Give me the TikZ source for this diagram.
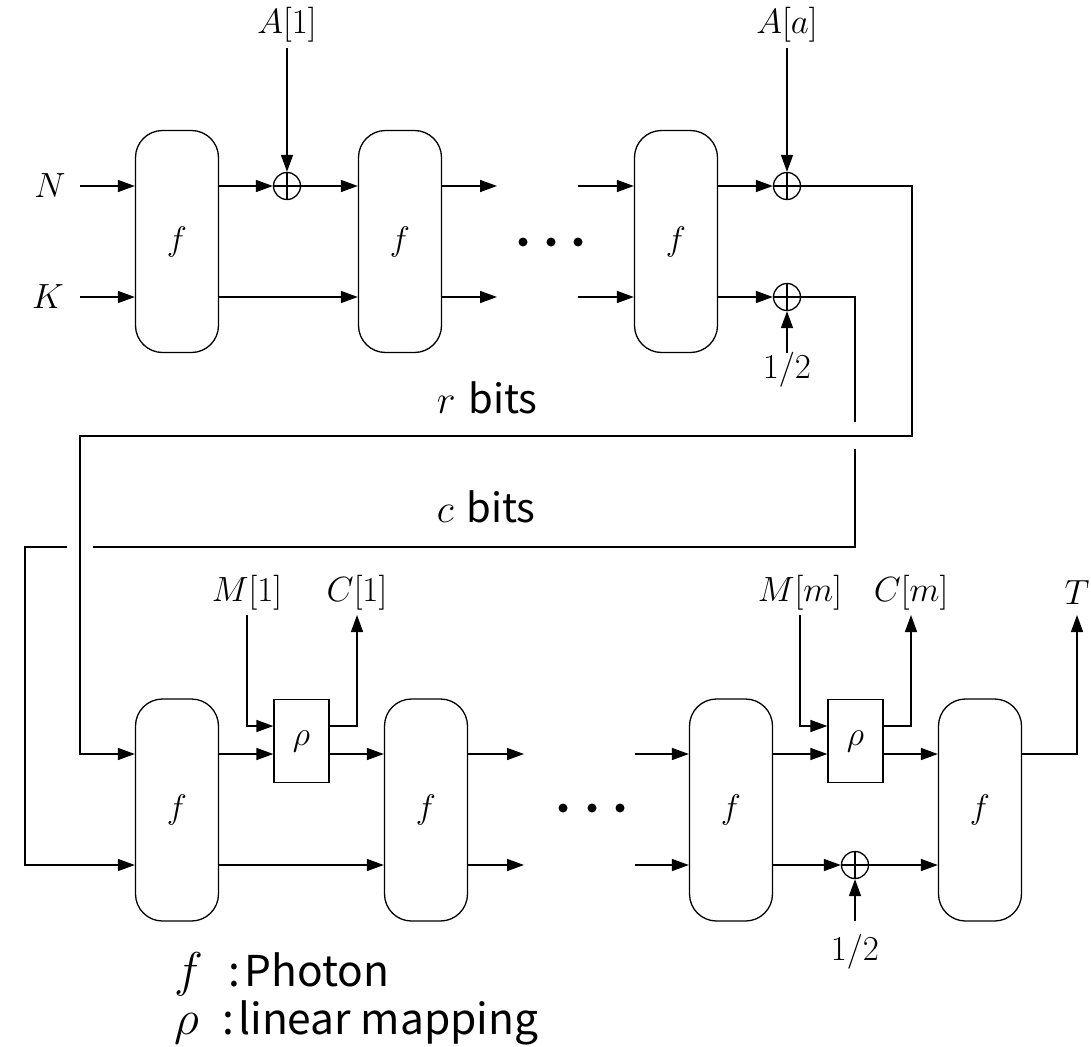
\RequirePackage{fix-cm}
\documentclass[tikz,border=0pt]{standalone}
\usepackage{fontspec}
\newfontfamily\jpsans{Noto Sans CJK JP}
\usetikzlibrary{arrows.meta,calc}
\tikzset{
  every path/.style={line width=1.5pt},
  fbox/.style={draw, rounded corners=27pt, minimum width=83pt, minimum height=222pt, inner sep=0pt, line width=1.3pt, font=\fontsize{34}{40}\selectfont},
  xorn/.style={draw, circle, minimum size=27pt, inner sep=0pt, line width=1.3pt,
    path picture={\draw[line width=1.3pt] (path picture bounding box.north) -- (path picture bounding box.south)
      (path picture bounding box.west) -- (path picture bounding box.east);}},
  rhobox/.style={draw, minimum width=55pt, minimum height=83pt, inner sep=0pt, line width=1.3pt, font=\fontsize{34}{40}\selectfont},
  lbl/.style={inner sep=0pt, font=\fontsize{35}{40}\selectfont},
  sans/.style={inner sep=0pt, font=\fontsize{40}{48}\selectfont\jpsans},
  legend/.style={inner sep=0pt, font=\fontsize{42.5}{50}\selectfont\jpsans},
  arr/.style={-{Triangle[length=17pt,width=12pt]}},
  dotc/.style={fill=black, circle, inner sep=0pt, minimum size=9pt}
}
\begin{document}
\begin{tikzpicture}[x=1pt,y=-1pt]
\useasboundingbox (0,0) rectangle (1091,1046);
% ---------- top row ----------
\node[fbox] (t1) at (177,241.5) {$f$};
\node[fbox] (t2) at (400,241.5) {$f$};
\node[fbox] (t3) at (676,241.5) {$f$};
\node[lbl] (N) at (50,186) {$N$};
\node[lbl] (K) at (48,297) {$K$};
\coordinate (nS) at (80,186);
\coordinate (kS) at (80,297);
\draw[arr] (nS) -- (nS -| t1.west);
\draw[arr] (kS) -- (kS -| t1.west);
\node[xorn] (x1) at (287,186) {};
\node[lbl] (A1) at (287,25) {$A[1]$};
\coordinate (a1s) at (287,48);
\draw[arr] (a1s) -- (x1.north);
\draw[arr] (t1.east |- x1) -- (x1.west);
\draw[arr] (x1.east) -- (x1.east -| t2.west);
\draw[arr] (t1.east |- kS) -- (t2.west |- kS);
\coordinate (o1) at (497,186);
\coordinate (o2) at (497,297);
\draw[arr] (t2.east |- o1) -- (o1);
\draw[arr] (t2.east |- o2) -- (o2);
\node[dotc] (d1) at (523,242) {};
\node[dotc] (d2) at (551,242) {};
\node[dotc] (d3) at (578,242) {};
\coordinate (i1) at (578,186);
\coordinate (i2) at (578,297);
\draw[arr] (i1) -- (i1 -| t3.west);
\draw[arr] (i2) -- (i2 -| t3.west);
\node[xorn] (x2) at (787,186) {};
\node[xorn] (x3) at (787,297) {};
\node[lbl] (Aa) at (787,25) {$A[a]$};
\coordinate (aas) at (787,48);
\draw[arr] (aas) -- (x2.north);
\draw[arr] (t3.east |- x2) -- (x2.west);
\draw[arr] (t3.east |- x3) -- (x3.west);
\node[lbl] (h1) at (787,370) {$1/2$};
\coordinate (h1s) at (787,353);
\draw[arr] (h1s) -- (x3.south);
% ---------- bits lines ----------
\coordinate (yU) at (0,726);
\coordinate (yB) at (0,754);
\coordinate (yL) at (0,865);
\node[fbox] (b1) at (177,810) {$f$};
\node[fbox] (b2) at (426,810) {$f$};
\node[fbox] (b3) at (731,810) {$f$};
\node[fbox] (b4) at (980,810) {$f$};
\coordinate (rc1) at (912,436);
\coordinate (rc2) at (80,436);
\draw[arr] (x2.east) -| (rc1) -- (rc2) |- (b1.west |- yB);
\coordinate (cA) at (855,422);
\coordinate (cB) at (855,449);
\coordinate (cC) at (93,547);
\coordinate (cD) at (67,547);
\coordinate (cE) at (25,547);
\draw (x3.east) -| (cA);
\draw (cB) |- (cC);
\draw[arr] (cD) -- (cE) |- (b1.west |- yL);
\node[sans, anchor=base west] (rb) at (436,413) {$r$\hspace{13pt}bits};
\node[sans, anchor=base west] (cb) at (436,522) {$c$\hspace{13pt}bits};
% ---------- bottom row ----------
\node[rhobox] (rho1) at (301.5,741) {$\rho$};
\node[rhobox] (rho2) at (855.5,741) {$\rho$};
\node[lbl] (M1) at (247,593) {$M[1]$};
\node[lbl] (C1) at (357,593) {$C[1]$};
\coordinate (m1s) at (247,615);
\coordinate (c1e) at (357,615);
\draw[arr] (m1s) |- (rho1.west |- yU);
\draw[arr] (b1.east |- yB) -- (rho1.west |- yB);
\draw[arr] (rho1.east |- yU) -| (c1e);
\draw[arr] (rho1.east |- yB) -- (b2.west |- yB);
\draw[arr] (b1.east |- yL) -- (b2.west |- yL);
\coordinate (p1) at (524,754);
\coordinate (p2) at (524,865);
\draw[arr] (b2.east |- p1) -- (p1);
\draw[arr] (b2.east |- p2) -- (p2);
\node[dotc] (e1) at (563,808) {};
\node[dotc] (e2) at (592,808) {};
\node[dotc] (e3) at (620,808) {};
\coordinate (q1) at (635,754);
\coordinate (q2) at (635,865);
\draw[arr] (q1) -- (q1 -| b3.west);
\draw[arr] (q2) -- (q2 -| b3.west);
\node[lbl] (Mm) at (800,593) {$M[m]$};
\node[lbl] (Cm) at (911,593) {$C[m]$};
\coordinate (mms) at (800,615);
\coordinate (cme) at (911,615);
\draw[arr] (mms) |- (rho2.west |- yU);
\draw[arr] (b3.east |- yB) -- (rho2.west |- yB);
\draw[arr] (rho2.east |- yU) -| (cme);
\draw[arr] (rho2.east |- yB) -- (b4.west |- yB);
\node[xorn] (x4) at (855,865) {};
\draw[arr] (b3.east |- yL) -- (x4.west);
\draw[arr] (x4.east) -- (b4.west |- yL);
\node[lbl] (h2) at (855,952) {$1/2$};
\coordinate (h2s) at (855,921);
\draw[arr] (h2s) -- (x4.south);
\node[lbl] (T) at (1077,593) {$T$};
\coordinate (te) at (1077,615);
\draw[arr] (b4.east |- yB) -| (te);
% ---------- legend ----------
\node[legend, anchor=base west] (l1) at (174,986) {\scalebox{1.15}{$f$}\hspace{25pt}:\hspace{4pt}Photon};
\node[legend, anchor=base west] (l2) at (174,1034) {\scalebox{1.15}{$\rho$}\hspace{23pt}:\hspace{4pt}linear mapping};
\end{tikzpicture}
\end{document}
